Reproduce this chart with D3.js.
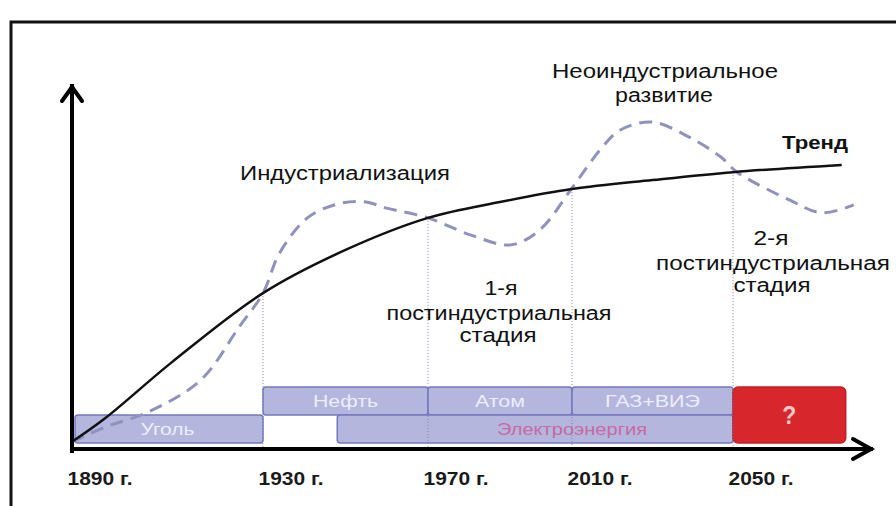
<!DOCTYPE html>
<html><head><meta charset="utf-8">
<script src="https://cdn.jsdelivr.net/npm/d3@7"></script>
<style>body{margin:0;background:#fff}svg{display:block}text{font-family:"Liberation Sans",Arial,sans-serif}</style>
</head><body><svg id="c" width="896" height="506"></svg>
<script>
// ---- data ----
const tickYears = [1890, 1930, 1970, 2010, 2050];
const tickLabels = ["1890 г.", "1930 г.", "1970 г.", "2010 г.", "2050 г."];
const trendYears  = [1890, 1897, 1911, 1930, 1950, 1970, 1990, 2010, 2030, 2050, 2077];
const trendValues = [2, 8.6, 24.2, 43.3, 55.3, 64.2, 68.6, 72.2, 74.7, 76.9, 78.9];
const cycleYears  = [1890, 1897, 1906, 1917, 1925, 1930, 1934, 1941, 1949, 1955, 1960, 1970, 1982, 1993, 2001, 2010, 2017, 2022, 2030, 2039, 2047, 2051, 2064, 2072, 2080];
const cycleValues = [2, 6.1, 10.3, 19.2, 33.9, 43.3, 54.4, 64.4, 68.3, 68.6, 66.9, 64.2, 59.4, 56.7, 60.8, 72.5, 83.1, 88.6, 90.8, 86.7, 81.1, 76.9, 69.2, 65.6, 67.8];
const stageYears = [1930, 1970, 2010, 2050];
const energyNames = ["Уголь", "Нефть", "Атом", "ГАЗ+ВИЭ", "Электроэнергия", "?"];
const energyStart = [1890, 1930, 1970, 2010, 1948, 2050];
const energyEnd   = [1930, 1970, 2010, 2050, 2050, 2078];
const energyRow   = ["lower", "upper", "upper", "upper", "lower", "both"];

// ---- drawing ----
const svg = d3.select("#c");
svg.append("rect").attr("width", 896).attr("height", 506).attr("fill", "#fff");

const x = d3.scaleLinear().domain(tickYears).range([72, 263, 428, 572, 733]);
const y = d3.scaleLinear().domain([0, 100]).range([449, 89]);
const row = d3.scaleBand().domain(["upper", "lower"]).range([387, 443]).padding(0);

// frame
svg.append("path").attr("d", "M11,506V22H896").attr("fill", "none").attr("stroke", "#111").attr("stroke-width", 3);

function txt(str, cx, by, o) {
  const t = svg.append("text").text(str).attr("x", cx).attr("y", by)
    .attr("text-anchor", o.anchor || "middle")
    .attr("font-size", o.size || 20)
    .attr("font-weight", o.weight || "normal")
    .attr("fill", o.fill || "#111");
  if (o.w) t.attr("textLength", o.w).attr("lengthAdjust", "spacingAndGlyphs");
  return t;
}

// energy bars
const bars = energyNames.map((n, i) => ({name: n, s: energyStart[i], e: energyEnd[i], r: energyRow[i]}));
const barG = svg.append("g");
bars.forEach(b => {
  const y0 = b.r === "both" ? row("upper") : row(b.r);
  const h = b.r === "both" ? row.bandwidth() * 2 : row.bandwidth();
  const isQ = b.name === "?";
  barG.append("rect")
    .attr("x", x(b.s) + (b.s === 1890 ? 3 : 0)).attr("y", y0)
    .attr("width", x(b.e) - x(b.s) - (b.s === 1890 ? 3 : 0)).attr("height", h)
    .attr("rx", isQ ? 5 : 3)
    .attr("fill", isQ ? "#d7262c" : "#b4b6de")
    .attr("stroke", isQ ? "#c01f25" : "#7478bd").attr("stroke-width", 1.5);
});
const barLabelW = {"Уголь": 54, "Нефть": 65, "Атом": 50, "ГАЗ+ВИЭ": 95, "Электроэнергия": 150, "?": 14};
bars.forEach(b => {
  const isQ = b.name === "?";
  const cx = b.name === "Электроэнергия" ? x(2010) : (x(b.s) + x(b.e)) / 2;
  const yc = b.r === "both" ? 424 : row(b.r) + row.bandwidth() / 2 + 6;
  txt(b.name, cx, yc, {size: isQ ? 26 : 16, weight: isQ ? "bold" : "normal", w: barLabelW[b.name],
    fill: isQ ? "#f7c9c9" : (b.name === "Электроэнергия" ? "#c66aa2" : "#eceef9")});
});

// stage dotted lines
stageYears.forEach(yr => {
  const v = trendValues[trendYears.indexOf(yr)];
  svg.append("line").attr("x1", x(yr)).attr("x2", x(yr)).attr("y1", y(v)).attr("y2", y(0))
    .attr("stroke", "#7d80a8").attr("stroke-width", 1).attr("stroke-dasharray", "1,2");
});

// cycle dashed curve
const line = d3.line().x(d => x(d[0])).y(d => y(d[1])).curve(d3.curveCatmullRom.alpha(0.5));
svg.append("path").attr("d", line(d3.zip(cycleYears, cycleValues)))
  .attr("fill", "none").attr("stroke", "#9092be").attr("stroke-width", 3).attr("stroke-dasharray", "13,8");
// trend
svg.append("path").attr("d", line(d3.zip(trendYears, trendValues)))
  .attr("fill", "none").attr("stroke", "#111").attr("stroke-width", 2.5);

// axes
const ax = svg.append("g").attr("stroke", "#000").attr("stroke-width", 4).attr("fill", "none").attr("stroke-linecap", "square");
ax.append("line").attr("x1", x(1890)).attr("x2", x(1890)).attr("y1", y(0) + 2).attr("y2", 86);
ax.append("path").attr("d", `M${x(1890) - 10},101L${x(1890)},87L${x(1890) + 10},101`).attr("stroke-linecap", "round");
ax.append("line").attr("x1", x(1890)).attr("x2", 871).attr("y1", y(0)).attr("y2", y(0));
ax.append("path").attr("d", `M853,${y(0) - 10}L871,${y(0)}L853,${y(0) + 10}`).attr("stroke-linecap", "round");

// tick labels via axis
const xAxis = d3.axisBottom(x).tickValues(tickYears).tickFormat((d, i) => tickLabels[i]).tickSize(0);
const axG = svg.append("g").attr("transform", `translate(0,${y(0)})`).call(xAxis);
axG.select(".domain").remove();
axG.selectAll("text").attr("font-family", "'Liberation Sans',Arial,sans-serif")
  .attr("font-size", 19).attr("font-weight", "bold").attr("fill", "#1a1a1a")
  .attr("text-anchor", "start").attr("dy", 0).attr("y", 36).attr("x", -5)
  .attr("textLength", 65).attr("lengthAdjust", "spacingAndGlyphs");

// annotations
txt("Индустриализация", 345, 180, {w: 210});
txt("Неоиндустриальное", 665, 78, {w: 226});
txt("развитие", 664, 102, {w: 98});
txt("Тренд", 815, 149, {size: 19, weight: "bold", w: 66});
txt("1-я", 501, 295, {w: 33});
txt("постиндустриальная", 499, 320, {w: 225});
txt("стадия", 498, 342, {w: 77});
txt("2-я", 771, 245, {w: 35});
txt("постиндустриальная", 773, 270, {w: 234});
txt("стадия", 772, 292, {w: 77});
</script></body></html>
